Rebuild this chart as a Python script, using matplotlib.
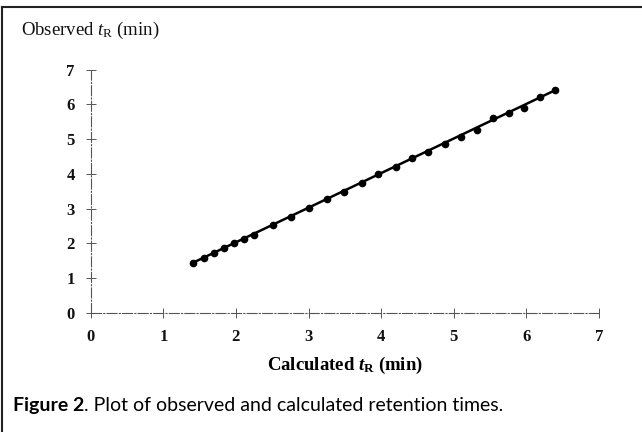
import matplotlib.pyplot as plt
from matplotlib.lines import Line2D

# ---- data ----
calc_tr = [1.41, 1.56, 1.70, 1.84, 1.97, 2.11, 2.25, 2.51, 2.76, 3.01, 3.25,
           3.49, 3.73, 3.96, 4.20, 4.42, 4.65, 4.88, 5.10, 5.32,
           5.54, 5.76, 5.97, 6.19, 6.40]
obs_tr = [1.44, 1.58, 1.71, 1.86, 2.00, 2.13, 2.25, 2.52, 2.76, 3.02, 3.27,
          3.48, 3.74, 3.99, 4.20, 4.45, 4.64, 4.86, 5.05, 5.26,
          5.60, 5.76, 5.90, 6.21, 6.41]
fit_x = [1.41, 6.41]
fit_y = [1.44, 6.42]
ticks = [0, 1, 2, 3, 4, 5, 6, 7]

# mathtext in the same serif face as the labels
plt.rcParams['mathtext.fontset'] = 'custom'
plt.rcParams['mathtext.it'] = 'Liberation Serif:italic'
plt.rcParams['mathtext.rm'] = 'Liberation Serif'
plt.rcParams['mathtext.bf'] = 'Liberation Serif:bold'
plt.rcParams['mathtext.bfit'] = 'Liberation Serif:bold:italic'

serif = ['Liberation Serif', 'DejaVu Serif']
sans = ['Lato', 'DejaVu Sans']

fig = plt.figure(figsize=(6.42, 4.32), dpi=100)
ax = fig.add_axes([0.1413, 0.2762, 0.7917, 0.5627])

ax.plot(fit_x, fit_y, color='black', lw=1.8, zorder=2)
ax.plot(calc_tr, obs_tr, 'o', color='black', ms=4.5, zorder=3)

ax.set_xlim(0, 7)
ax.set_ylim(0, 7)
ax.set_xticks(ticks)
ax.set_yticks(ticks)
for sp in ['top', 'right']:
    ax.spines[sp].set_visible(False)
for sp in ['left', 'bottom']:
    ax.spines[sp].set_color('#555555')
    ax.spines[sp].set_linewidth(0.8)
    ax.spines[sp].set_linestyle((0, (9, 2, 1, 2)))
ax.tick_params(direction='inout', length=7, width=0.7, color='#555555',
               labelsize=12, pad=8)
for lab in ax.get_xticklabels() + ax.get_yticklabels():
    lab.set_fontfamily(serif)
    lab.set_fontweight('bold')
    lab.set_color('#111111')

ax.set_xlabel(r'Calculated $\mathbfit{t}_{\mathbf{R}}$ (min)', fontsize=13.5,
              fontfamily=serif, fontweight='bold', labelpad=7)

fig.text(0.032, 0.93, r'Observed $t_{\mathrm{R}}$ (min)', fontsize=13.5,
         fontfamily=serif, va='center', ha='left', color='#111111')

# caption: bold label, then the rest right after it
cap1 = fig.text(0.02, 0.062, 'Figure 2', fontsize=14, fontweight='bold',
                fontfamily=sans, va='center', ha='left')
fig.canvas.draw()
bb = cap1.get_window_extent().transformed(fig.transFigure.inverted())
fig.text(bb.x1, 0.062, '. Plot of observed and calculated retention times.',
         fontsize=14, fontfamily=sans, va='center', ha='left')

# outer frame (top and left edges)
fig.add_artist(Line2D([0.003, 0.003], [0.0, 0.983], color='#222222', lw=1.5))
fig.add_artist(Line2D([0.003, 1.0], [0.983, 0.983], color='#222222', lw=1.5))

fig.savefig('out.png', dpi=100)
